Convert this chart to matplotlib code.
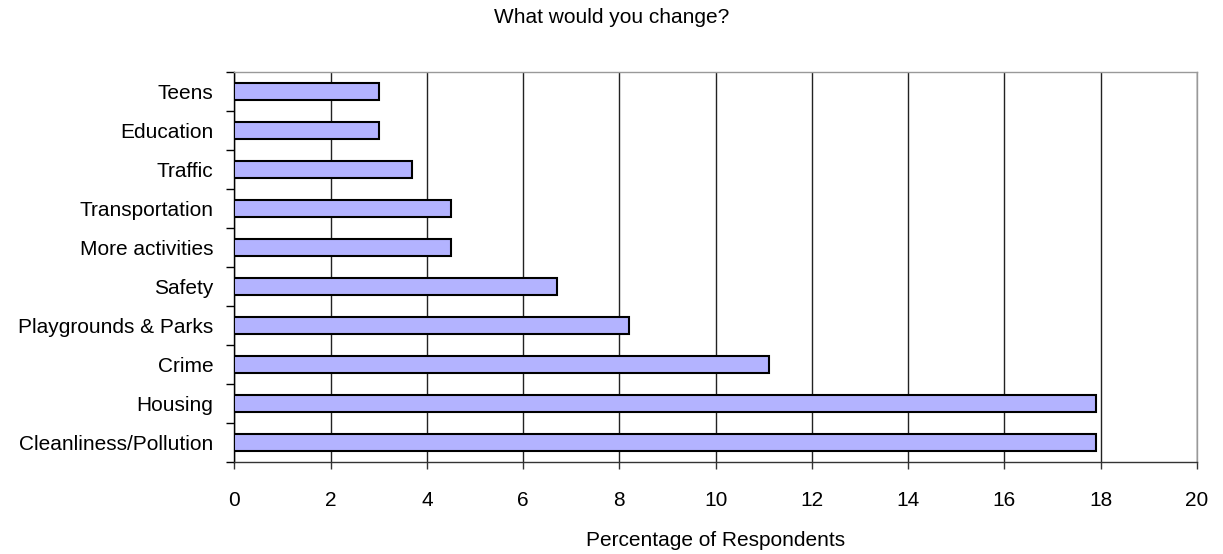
import matplotlib.pyplot as plt
import numpy as np

plt.rcParams['font.family'] = ['Liberation Sans', 'DejaVu Sans']

# categories bottom -> top
categories = ['Cleanliness/Pollution', 'Housing', 'Crime', 'Playgrounds & Parks',
              'Safety', 'More activities', 'Transportation', 'Traffic',
              'Education', 'Teens']
values = [17.9, 17.9, 11.1, 8.2, 6.7, 4.5, 4.5, 3.7, 3.0, 3.0]
x_ticks = [0, 2, 4, 6, 8, 10, 12, 14, 16, 18, 20]

fig = plt.figure(figsize=(12.23, 5.54), dpi=100)
ax = fig.add_axes([0.1916, 0.1666, 0.9787 - 0.1916, 0.8695 - 0.1666])

ypos = np.arange(len(categories))
ax.barh(ypos, values, height=0.43, color='#B3B3FF', edgecolor='black',
        linewidth=1.5, zorder=3)

ax.set_xlim(0, 20)
ax.set_ylim(-0.5, len(categories) - 0.5)
ax.set_xticks(x_ticks)
ax.set_xticklabels([str(t) for t in x_ticks], fontsize=15)
ax.set_yticks(ypos)
ax.set_yticklabels(categories, fontsize=15)
ax.set_yticks(np.arange(-0.5, len(categories)), minor=True)
ax.tick_params(axis='y', which='major', length=0, pad=15)
ax.tick_params(axis='y', which='minor', length=6, width=1, color='black')
ax.tick_params(axis='x', which='major', length=5, width=1, pad=16, color='#333333')

ax.grid(axis='x', color='#222222', linewidth=1, zorder=1)
for s in ['top', 'right']:
    ax.spines[s].set_color('#999999')
ax.spines['left'].set_color('black')
ax.spines['bottom'].set_color('#333333')
for s in ax.spines.values():
    s.set_linewidth(1)

ax.set_xlabel('Percentage of Respondents', fontsize=15, labelpad=15)
fig.suptitle('What would you change?', fontsize=15, y=0.985)

fig.savefig('out.png', dpi=100)
